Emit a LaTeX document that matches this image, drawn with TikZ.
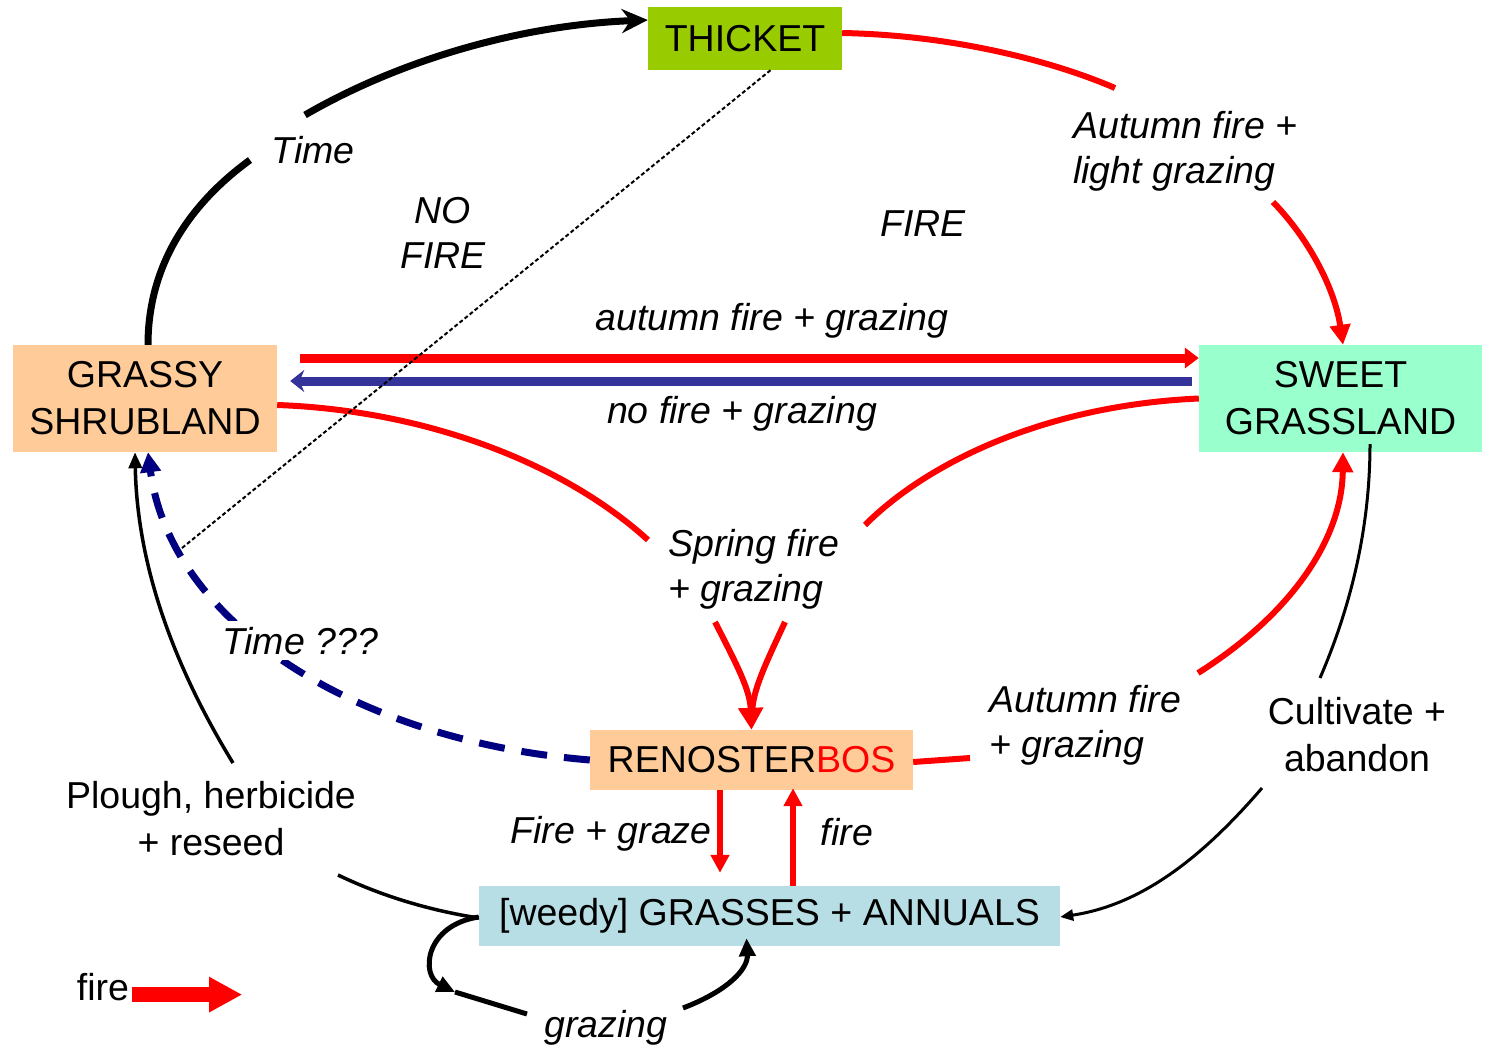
\documentclass[tikz,border=0pt]{standalone}
\usepackage{fontspec}
\setmainfont{Liberation Sans}
\usetikzlibrary{arrows.meta,calc}
\definecolor{thicketgreen}{RGB}{153,204,0}
\definecolor{peach}{RGB}{255,204,153}
\definecolor{mint}{RGB}{153,255,204}
\definecolor{weedblue}{RGB}{183,222,228}
\definecolor{grazeblue}{RGB}{51,51,153}
\definecolor{timenavy}{RGB}{0,0,128}
\begin{document}
\begin{tikzpicture}[x=1pt,y=-1pt,
  every node/.style={font=\fontsize{37.5}{47}\selectfont, inner sep=0pt},
  stbox/.style n args={3}{fill=#1, minimum width=#2, minimum height=#3, inner sep=0pt},
  lab/.style={font=\fontsize{37.5}{45}\selectfont\itshape},
  fireline/.style={draw=red, line width=6pt},
  firetip/.style={-{Triangle[length=20pt,width=20pt]}},
  blackline/.style={draw=black, line width=#1},
]
% canvas
\fill[white] (0,0) rectangle (1486,1045);
\useasboundingbox (0,0) rectangle (1486,1045);

% states
\node[stbox={thicketgreen}{194pt}{63pt}] (thicket) at (745,38.5) {THICKET};
\node[stbox={peach}{264pt}{107pt}, align=center] (shrub) at (145,398.5) {GRASSY\\SHRUBLAND};
\node[stbox={mint}{283pt}{107pt}, align=center] (sweet) at (1340.5,398.5) {SWEET\\GRASSLAND};
\node[stbox={peach}{323pt}{60pt}] (reno) at (751.5,760) {RENOSTER\textcolor{red}{BOS}};
\node[stbox={weedblue}{581pt}{60pt}] (grass) at (769.5,916) {[weedy] GRASSES + ANNUALS};

% free ends of the broken connectors
\coordinate (timeA) at (250,160);
\coordinate (timeB) at (305,115);
\coordinate (autA) at (1115,88);
\coordinate (autB) at (1273,202);
\coordinate (springL) at (648,540);
\coordinate (springR) at (865,525);
\coordinate (vL) at (715,622);
\coordinate (vR) at (785,622);
\coordinate (autC) at (970,758);
\coordinate (autD) at (1198,673);
\coordinate (cultA) at (1320,678);
\coordinate (cultB) at (1262,788);
\coordinate (ploughA) at (233,763);
\coordinate (ploughB) at (338,875);
\coordinate (gzA) at (455,992);
\coordinate (gzB) at (527,1014);
\coordinate (gzC) at (683,1008);
\coordinate (dotEnd) at (182,548);

% succession to thicket
\draw[blackline=7pt] ([xshift=3pt]shrub.north) .. controls (148,260) and (195,200) .. (timeA);
\draw[blackline=7pt, -{Stealth[length=26pt,width=24pt]}] (timeB) .. controls (400,60) and (520,25) .. ([yshift=18.5pt]thicket.west);

% thicket to sweet grassland
\draw[fireline] ([yshift=5.5pt]thicket.east) .. controls (950,35) and (1050,60) .. (autA);
\draw[fireline, firetip] (autB) .. controls (1310,240) and (1335,290) .. ([xshift=2.5pt]sweet.north);

% shrubland <-> sweet grassland
\draw[red, line width=9pt, -{Triangle[length=14pt,width=20pt]}] ([shift={(23,-40.5)}]shrub.east) -- ([yshift=40.5pt]sweet.west);
\draw[grazeblue, line width=9pt, -{Stealth[length=14pt,width=22pt]}] ([shift={(-7,-17.5)}]sweet.west) -- ([shift={(13,-17.5)}]shrub.east);

% spring fire into renosterbos
\draw[fireline] ([yshift=-6.5pt]shrub.east) .. controls (420,410) and (560,460) .. (springL);
\draw[fireline] (sweet.west) .. controls (1050,405) and (930,460) .. (springR);
\draw[fireline, -{Triangle[length=22pt,width=24pt]}] (vL) .. controls (737,665) and (750,690) .. (reno.north);
\draw[fireline, shorten >=18pt] (vR) .. controls (765,665) and (753,690) .. (reno.north);

% renosterbos back to shrubland
\draw[timenavy, line width=7pt, dash pattern=on 26pt off 17pt, -{Triangle[length=20pt,width=20pt]}] (reno.west) .. controls (350,740) and (170,620) .. ([xshift=3pt]shrub.south);

% plough, herbicide + reseed
\draw[blackline=3.5pt, -{Triangle[length=16pt,width=13pt]}] (ploughA) .. controls (170,660) and (137,560) .. ([xshift=-10pt]shrub.south);
\draw[blackline=3.5pt] (ploughB) .. controls (390,900) and (440,912) .. ([yshift=-2pt]grass.west);

% grazing loop
\draw[blackline=5pt, -{Triangle[length=18pt,width=16pt]}] ([yshift=-1pt]grass.west) .. controls (425,925) and (420,975) .. (gzA);
\draw[blackline=5pt] (gzA) -- (gzB);
\draw[blackline=5pt, -{Triangle[length=18pt,width=16pt]}] (gzC) .. controls (730,990) and (748,968) .. ([shift={(-23,-8)}]grass.south);

% renosterbos <-> grasses
\draw[fireline, -{Triangle[length=18pt,width=18pt]}, shorten >=13pt] ($(reno.south)+(-31.5,0)$) -- ($(grass.north)+(-49.5,0)$);
\draw[fireline, -{Triangle[length=18pt,width=18pt]}, shorten >=-2pt] ($(grass.north)+(23.5,0)$) -- ($(reno.south)+(41.5,0)$);

% renosterbos to sweet grassland
\draw[fireline] ([yshift=-2pt]reno.east) -- (autC);
\draw[fireline, firetip] (autD) .. controls (1290,615) and (1342,540) .. ([xshift=2.5pt]sweet.south);

% cultivate + abandon
\draw[blackline=3pt] ([shift={(29.5,-8)}]sweet.south) .. controls (1370,540) and (1345,620) .. (cultA);
\draw[blackline=3pt, -{Triangle[length=13pt,width=11pt]}] (cultB) .. controls (1200,860) and (1140,905) .. ([yshift=-1pt]grass.east);

% fire / no fire divide
\draw[line width=2pt, dash pattern=on 4pt off 2.5pt] ([xshift=25.5pt]thicket.south) -- (dotEnd);

% labels (base = baseline of the last line)
\node[lab, anchor=base] (lTime) at (313,163) {Time};
\node[lab, align=center, anchor=base] (lNoFire) at (443,268) {NO\\FIRE};
\node[lab, anchor=base] (lFire) at (923,236) {FIRE};
\node[lab, align=left, anchor=base west] (lAutLight) at (1073,183) {Autumn fire +\\light grazing};
\node[lab, anchor=base] (lAutGraz) at (772,330) {autumn fire + grazing};
\node[lab, anchor=base] (lNoGraz) at (742,423) {no fire + grazing};
\node[lab, align=left, anchor=base west] (lSpring) at (668,601) {Spring fire\\+ grazing};
\node[lab, anchor=base, fill=white, inner sep=6pt] (lTimeQ) at (300,654) {Time ???};
\node[lab, align=left, anchor=base west] (lAutRen) at (989,757) {Autumn fire\\+ grazing};
\node[align=center, anchor=base] (lCult) at (1357,771) {Cultivate +\\abandon};
\node[align=center, anchor=base] (lPlough) at (211,855) {Plough, herbicide\\+ reseed};
\node[lab, anchor=base] (lFireGraze) at (611,843) {Fire + graze};
\node[lab, anchor=base] (lFireUp) at (847,845) {fire};
\node[lab, anchor=base] (lGrazing) at (606,1037) {grazing};

% key
\node[anchor=base] (legfire) at (103,1000) {fire};
\draw[red, line width=15pt, -{Triangle[length=33pt,width=33pt]}] ([shift={(3,8)}]legfire.east) -- ++(110,0);
\end{tikzpicture}
\end{document}
